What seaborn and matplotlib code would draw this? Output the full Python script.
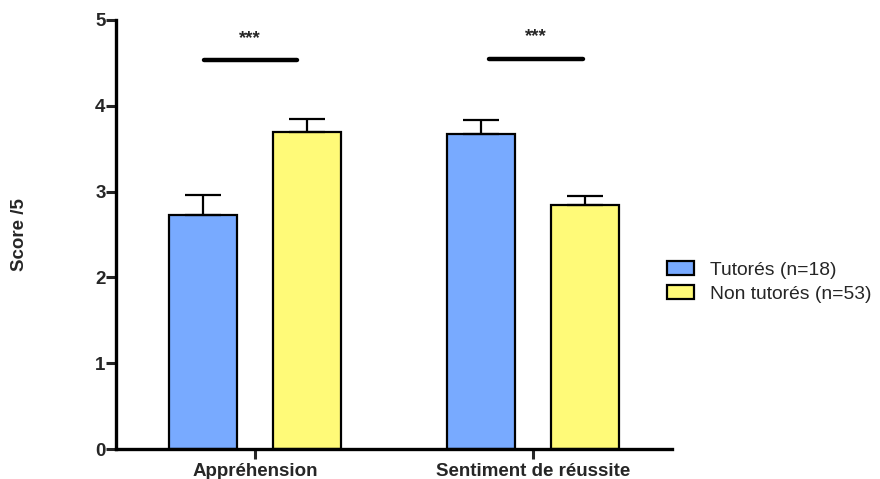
import matplotlib
matplotlib.use("Agg")
import matplotlib.pyplot as plt
import seaborn as sns
import pandas as pd

# ── Data ─────────────────────────────────────────────────
categories = ["Appréhension", "Sentiment de réussite"]
groups     = ["Tutorés (n=18)", "Non tutorés (n=53)"]
means_tut  = [2.73, 3.67]
means_non  = [3.70, 2.84]
sem_tut    = [0.23, 0.16]
sem_non    = [0.15, 0.11]
sig_labels = ["***", "***"]
sig_y      = [4.53, 4.55]
sig_span   = [(-0.185, 0.15), (-0.16, 0.18)]

colors = ["#78AAFF", "#FFFA78"]

df = pd.DataFrame({
    "cat":   categories * 2,
    "group": [groups[0]] * 2 + [groups[1]] * 2,
    "mean":  means_tut + means_non,
    "sem":   sem_tut + sem_non,
})

sns.set_style("ticks")
plt.rcParams["font.family"] = ["Liberation Sans", "DejaVu Sans"]

fig = plt.figure(figsize=(8.8, 4.79), dpi=100)
ax = fig.add_axes([116 / 880, 30 / 479, 556 / 880, 429 / 479])

sns.barplot(data=df, x="cat", y="mean", hue="group", order=categories,
            hue_order=groups, palette=colors, width=0.745, gap=0.34,
            edgecolor="black", linewidth=1.6, errorbar=None, saturation=1,
            ax=ax)

# upper-only error bars, placed on the drawn bars
for cont, g in zip(ax.containers, groups):
    sub = df[df["group"] == g].set_index("cat").loc[categories]
    xs = [b.get_x() + b.get_width() / 2 for b in cont]
    ax.errorbar(xs, sub["mean"], yerr=[[0] * len(xs), sub["sem"]],
                fmt="none", ecolor="black", elinewidth=1.6, capsize=13,
                capthick=1.6, zorder=1)

# significance lines
for i, (lab, y, (a, b)) in enumerate(zip(sig_labels, sig_y, sig_span)):
    ax.plot([i + a, i + b], [y, y], color="black", lw=3.2,
            solid_capstyle="round")
    ax.text(i + (a + b) / 2, y + 0.2, lab, ha="center", va="baseline",
            fontsize=13.5, fontweight="bold")

ax.set_xlim(-0.5, 1.5)
ax.set_ylim(0, 5)
ax.set_yticks(range(6))
ax.set_xlabel("")
ax.set_ylabel("Score /5", fontsize=13.5, fontweight="bold")
ax.yaxis.set_label_coords(-0.158, 0.5)
for lbl in ax.get_xticklabels() + ax.get_yticklabels():
    lbl.set_fontweight("bold")
ax.tick_params(axis="x", labelsize=13.5, length=7, width=2.2, pad=3)
ax.tick_params(axis="y", labelsize=13.5, length=7, width=2.2, pad=0.5)
sns.despine(ax=ax)
for s in ["left", "bottom"]:
    ax.spines[s].set_linewidth(2.4)
    ax.spines[s].set_color("black")

ax.get_legend().remove()
handles = [plt.Rectangle((0, 0), 1, 1, facecolor=c, edgecolor="black",
                         linewidth=1.6) for c in colors]
fig.legend(handles, groups, loc="center left",
           bbox_to_anchor=(667 / 880, 197 / 479), frameon=False,
           fontsize=13.9, handlelength=1.4, handleheight=0.7,
           handletextpad=0.85, labelspacing=0.35, borderaxespad=0,
           borderpad=0)

plt.savefig("out.png", dpi=100)
plt.close()
